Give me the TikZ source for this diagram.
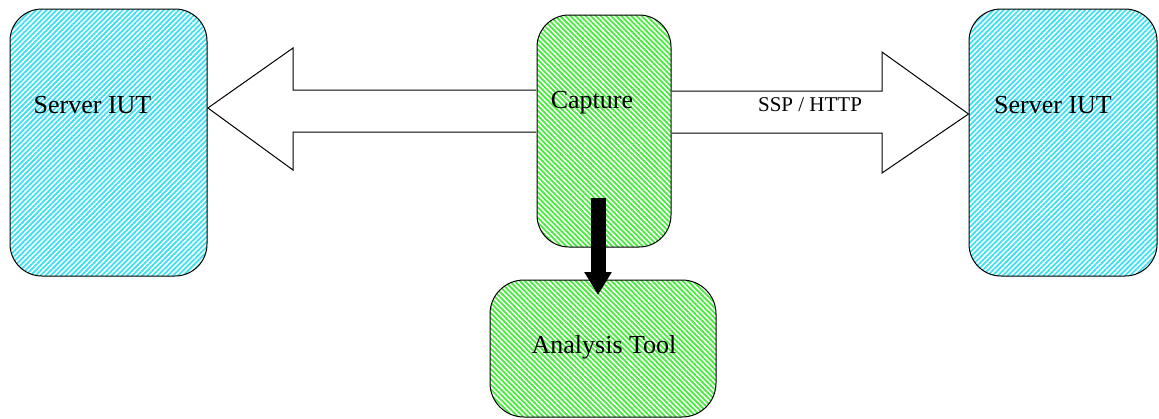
\documentclass[tikz,border=0pt]{standalone}
\usepackage{fontspec}
\setmainfont{Liberation Serif}
\usepackage{tikz}
\usetikzlibrary{patterns.meta,arrows.meta}
\definecolor{iutcyan}{RGB}{60,225,240}
\definecolor{capgreen}{RGB}{70,235,60}
\tikzset{
  box/.style={draw,line width=0.5pt,rounded corners=16pt,inner sep=0pt},
  iutbox/.style={box,pattern={Lines[angle=45,distance=1.8pt,line width=0.9pt]},pattern color=iutcyan},
  capbox/.style={box,pattern={Lines[angle=-45,distance=1.8pt,line width=0.9pt]},pattern color=capgreen},
  pipe/.style={draw,fill=white,line width=0.5pt,line join=miter},
  tap/.style={line width=7.5pt,-{Triangle[width=13pt,length=11.5pt]}},
  lbl/.style={font=\fontsize{13}{15}\selectfont,inner sep=0pt}
}
\begin{document}
\begin{tikzpicture}[x=0.5pt,y=-0.5pt]
  \useasboundingbox (0,0) rectangle (1159,418);
  % boxes
  \node[iutbox,minimum width=98.5pt,minimum height=133.5pt] (srvL) at (108.5,142.5) {};
  \node[iutbox,minimum width=94pt,minimum height=133.5pt] (srvR) at (1063,142.5) {};
  \node[capbox,minimum width=67pt,minimum height=116pt] (capt) at (604,131) {};
  \node[capbox,minimum width=113pt,minimum height=68.5pt,rounded corners=17pt] (ana) at (603,348.5) {};
  % the two hollow arrows
  \draw[pipe] ([yshift=20.5pt]capt.west) -- (293,90) -- (293,48)
    -- ([yshift=17.25pt]srvL.east) -- (293,170) -- (293,132) -- ([yshift=-0.5pt]capt.west);
  \draw[pipe] ([yshift=20pt]capt.east) -- (882,91) -- (882,52)
    -- ([yshift=14.25pt]srvR.west) -- (882,173) -- (882,133) -- ([yshift=-1pt]capt.east);
  % labels
  \node[lbl] (tL) at (92.5,105) {Server IUT};
  \node[lbl] (tR) at (1053,105) {Server IUT};
  \node[lbl] (tC) at (592,103) {Capture};
  \node[lbl] (tA) at (604,347) {Analysis Tool};
  \node[lbl,font=\fontsize{10.5}{12}\selectfont] (tP) at (810,105) {SSP / HTTP};
  % capture to analysis
  \coordinate (tapS) at (598,198);
  \coordinate (tapE) at (598,295);
  \draw[tap] (tapS) -- (tapE);
\end{tikzpicture}
\end{document}
